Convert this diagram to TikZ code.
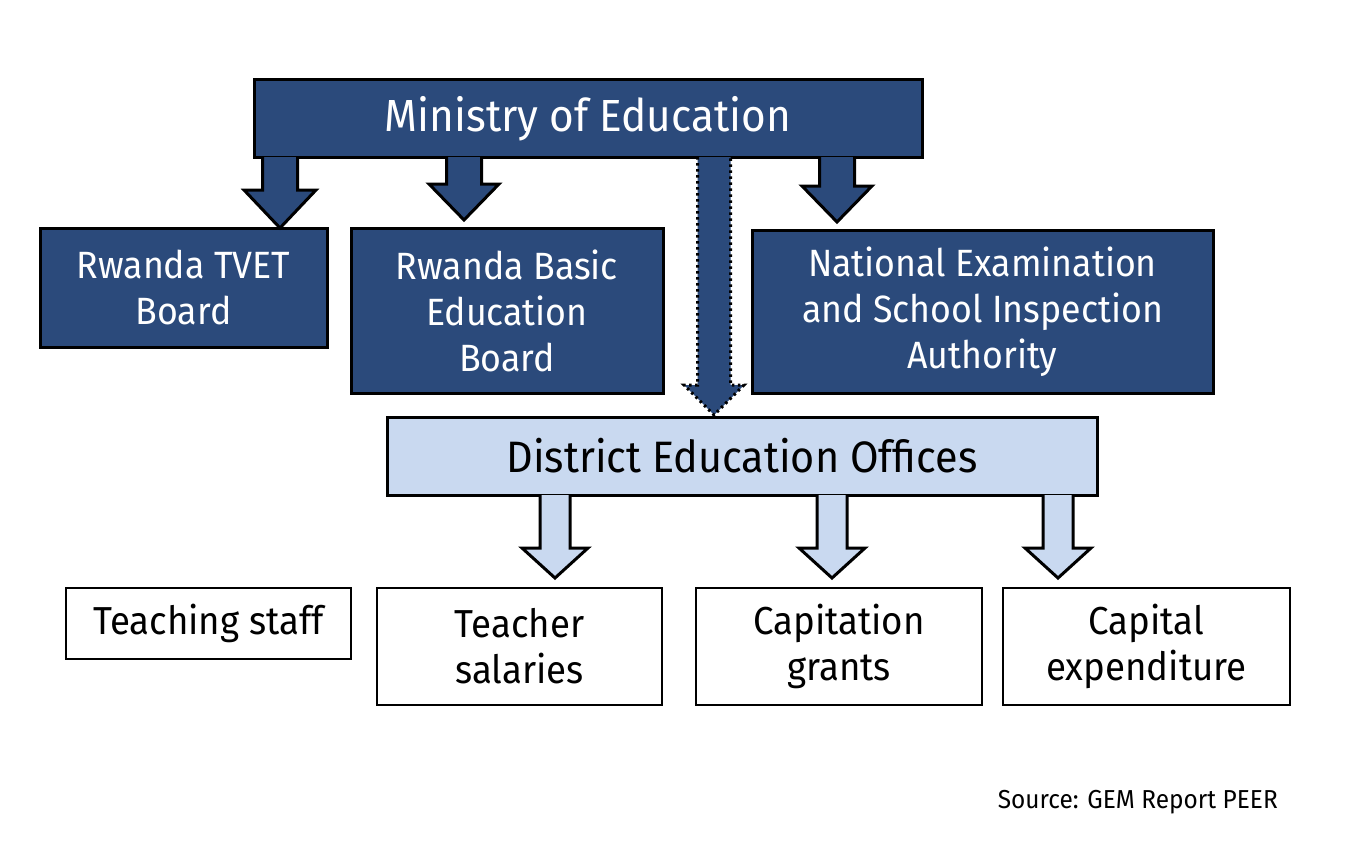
\documentclass[tikz,border=0pt]{standalone}
\usepackage{fontspec}
\setmainfont[FakeStretch=0.94]{Fira Sans}
\usetikzlibrary{calc}
\definecolor{dblue}{HTML}{2B4A7B}
\definecolor{lblue}{HTML}{C9D9F0}
\newcommand\blkarrow[8]{% style, x, from, to, shaft half, head half, head length, gap
  \draw[#1] let \p1=(#3.south), \p2=(#4.north) in
    (#2pt-#5pt,\y1) -- (#2pt-#5pt,\y2+#8pt+#7pt) -- (#2pt-#6pt,\y2+#8pt+#7pt)
    -- (#2pt,\y2+#8pt) -- (#2pt+#6pt,\y2+#8pt+#7pt) -- (#2pt+#5pt,\y2+#8pt+#7pt)
    -- (#2pt+#5pt,\y1);}
\begin{document}
\begin{tikzpicture}[x=1pt,y=-1pt,
  box/.style={rectangle, draw=black, line width=3pt, anchor=north west, align=center,
    inner sep=0pt, outer sep=0pt},
  darkbox/.style={box, fill=dblue, text=white, font=\fontsize{38}{46}\selectfont},
  wbox/.style={box, fill=white, line width=2pt, text=black, font=\fontsize{39}{46}\selectfont},
  darr/.style={fill=dblue, draw=black, line width=3pt, line join=miter},
  larr/.style={fill=lblue, draw=black, line width=3pt, line join=miter},
  dotarr/.style={fill=dblue, draw=black, line width=3pt, dash pattern=on 2.5pt off 3.5pt},
]
\useasboundingbox (0,0) rectangle (1364,848);
\fill[white] (0,0) rectangle (1364,848);

\node[darkbox, minimum width=668pt, minimum height=77pt, font=\fontsize{45}{54}\selectfont]
  (min) at (254,80) {Ministry of Education};
\node[darkbox, minimum width=287pt, minimum height=119pt] (tvet) at (40,228) {Rwanda TVET\\Board};
\node[darkbox, minimum width=312pt, minimum height=165pt] (rbeb) at (351,228) {Rwanda Basic\\Education\\Board};
\node[darkbox, minimum width=461pt, minimum height=163pt] (nesa) at (752,230) {National Examination\\and School Inspection\\Authority};
\node[box, fill=lblue, minimum width=710pt, minimum height=78pt, font=\fontsize{44}{52}\selectfont]
  (deo) at (387,417) {District Education Offices};

\node[wbox, minimum width=285pt, minimum height=71pt] (staff) at (66,588) {Teaching staff};
\node[wbox, minimum width=285pt, minimum height=117pt] (sal) at (377,588) {Teacher\\salaries};
\node[wbox, minimum width=286pt, minimum height=117pt] (cap) at (696,588) {Capitation\\grants};
\node[wbox, minimum width=287pt, minimum height=117pt] (capex) at (1003,588) {Capital\\expenditure};

\blkarrow{darr}{280}{min}{tvet}{17.5}{36}{38}{0}
\blkarrow{darr}{464}{min}{rbeb}{17.5}{35}{36}{8}
\blkarrow{dotarr}{714}{min}{deo}{16.5}{30}{30}{2}
\blkarrow{darr}{837}{min}{nesa}{17.5}{35}{36}{8}

\blkarrow{larr}{555}{deo}{sal}{15}{33}{30}{10}
\blkarrow{larr}{832}{deo}{cap}{15}{33}{30}{10}
\blkarrow{larr}{1058}{deo}{capex}{15}{33}{30}{10}

\node[anchor=base east, font=\fontsize{26}{30}\selectfont, inner sep=0pt] (src) at (1278,808) {Source: GEM Report PEER};
\end{tikzpicture}
\end{document}
